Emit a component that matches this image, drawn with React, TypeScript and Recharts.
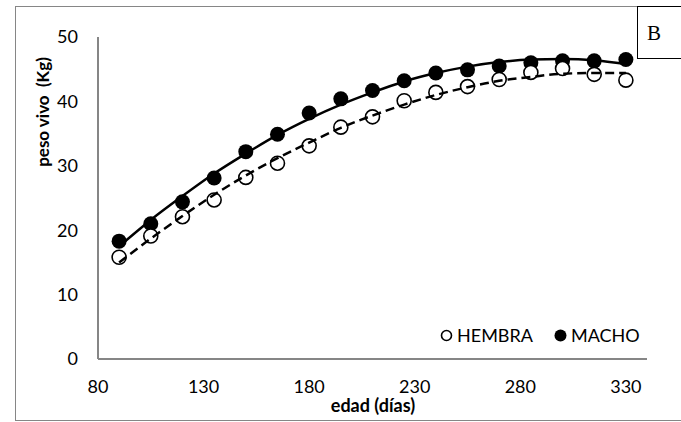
import {
  ComposedChart,
  Scatter,
  Line,
  XAxis,
  YAxis,
} from "recharts";

// edad (días)
const edad = [90, 105, 120, 135, 150, 165, 180, 195, 210, 225, 240, 255, 270, 285, 300, 315, 330];

// peso vivo (Kg), observed means
const hembra = [15.8, 19.1, 22.1, 24.7, 28.2, 30.4, 33.1, 36.0, 37.6, 40.1, 41.4, 42.3, 43.4, 44.5, 45.1, 44.2, 43.3];
const macho = [18.3, 21.0, 24.4, 28.1, 32.2, 34.9, 38.2, 40.4, 41.7, 43.2, 44.4, 44.9, 45.5, 46.0, 46.3, 46.3, 46.5];

// trend curves
const hembraCurva = [15.0, 18.7, 22.2, 25.5, 28.5, 31.2, 33.6, 35.9, 37.8, 39.5, 41.0, 42.2, 43.2, 43.8, 44.3, 44.4, 44.4];
const machoCurva = [17.5, 21.6, 25.3, 28.8, 31.9, 34.8, 37.3, 39.5, 41.4, 43.1, 44.4, 45.4, 46.1, 46.5, 46.6, 46.4, 45.8];

const xTicks = [80, 130, 180, 230, 280, 330];
const yTicks = [0, 10, 20, 30, 40, 50];

const rows = edad.map((e, i) => ({
  edad: e,
  hembra: hembra[i],
  macho: macho[i],
  hembraCurva: hembraCurva[i],
  machoCurva: machoCurva[i],
}));

const FONT = "Lato, 'Open Sans', sans-serif";
const AXIS = "#868686";
const X_DOMAIN: [number, number] = [80, 340];
const Y_DOMAIN: [number, number] = [0, 50];

function LegendBox() {
  return (
    <div
      style={{
        position: "absolute",
        left: 440,
        top: 324,
        display: "flex",
        alignItems: "center",
        fontFamily: FONT,
        fontSize: 18,
        color: "#000",
        lineHeight: "22px",
      }}
    >
      <svg width={13} height={13} style={{ marginRight: 4 }}>
        <circle cx={6.5} cy={6.5} r={5} fill="#fff" stroke="#000" strokeWidth={1.6} />
      </svg>
      <span style={{ marginRight: 21 }}>HEMBRA</span>
      <svg width={13} height={13} style={{ marginRight: 4 }}>
        <circle cx={6.5} cy={6.5} r={6} fill="#000" />
      </svg>
      <span>MACHO</span>
    </div>
  );
}

export default function App() {
  return (
    <div style={{ position: "absolute", left: 0, top: 0, width: 681, height: 422, background: "#fff", overflow: "hidden" }}>
      <div
        style={{
          position: "absolute",
          left: 15,
          top: 6,
          width: 700,
          height: 413,
          border: `1px solid ${AXIS}`,
        }}
      />
      {/* axes + points */}
      <ComposedChart
        width={681}
        height={422}
        data={rows}
        margin={{ top: 37, right: 34, bottom: 33, left: 38 }}
        style={{ position: "absolute", left: 0, top: 0 }}
      >
        <XAxis
          dataKey="edad"
          type="number"
          domain={X_DOMAIN}
          ticks={xTicks}
          tickLine={false}
          axisLine={{ stroke: AXIS, strokeWidth: 2 }}
          tick={{ fill: "#000", fontSize: 18, fontFamily: FONT }}
          tickMargin={15}
          interval={0}
          height={30}
        />
        <YAxis
          type="number"
          domain={Y_DOMAIN}
          ticks={yTicks}
          tickLine={false}
          axisLine={{ stroke: AXIS, strokeWidth: 2 }}
          tick={{ fill: "#000", fontSize: 18, fontFamily: FONT }}
          tickMargin={14}
          width={60}
        />
        <Scatter
          name="MACHO"
          dataKey="macho"
          fill="#000"
          isAnimationActive={false}
          shape={(p: any) => <circle cx={p.cx} cy={p.cy} r={7.5} fill="#000" />}
        />
        <Scatter
          name="HEMBRA"
          dataKey="hembra"
          fill="#fff"
          isAnimationActive={false}
          shape={(p: any) => (
            <circle cx={p.cx} cy={p.cy} r={7} fill="#fff" stroke="#000" strokeWidth={1.6} />
          )}
        />
        <text
          x={42}
          y={112}
          transform="rotate(-90 42 112)"
          textAnchor="middle"
          dominantBaseline="central"
          fontFamily={FONT}
          fontWeight="bold"
          fontSize={17}
          fill="#000"
          style={{ whiteSpace: "pre" }}
        >
          peso vivo  (Kg)
        </text>
        <text
          x={373}
          y={405}
          textAnchor="middle"
          dominantBaseline="central"
          fontFamily={FONT}
          fontWeight="bold"
          fontSize={18}
          fill="#000"
        >
          edad (días)
        </text>
      </ComposedChart>
      {/* trend curves drawn over the markers */}
      <ComposedChart
        width={681}
        height={422}
        data={rows}
        margin={{ top: 37, right: 34, bottom: 63, left: 98 }}
        style={{ position: "absolute", left: 0, top: 0 }}
      >
        <XAxis dataKey="edad" type="number" domain={X_DOMAIN} hide />
        <YAxis type="number" domain={Y_DOMAIN} hide />
        <Line
          dataKey="machoCurva"
          type="monotone"
          stroke="#000"
          strokeWidth={2.5}
          dot={false}
          activeDot={false}
          isAnimationActive={false}
        />
        <Line
          dataKey="hembraCurva"
          type="monotone"
          stroke="#000"
          strokeWidth={2.5}
          strokeDasharray="9 5"
          dot={false}
          activeDot={false}
          isAnimationActive={false}
        />
      </ComposedChart>
      <LegendBox />
      <div
        style={{
          position: "absolute",
          left: 637,
          top: 6,
          width: 60,
          height: 53,
          border: "1px solid #000",
          background: "#fff",
          fontFamily: "'Liberation Serif', 'Times New Roman', serif",
          fontSize: 21,
          lineHeight: "53px",
          paddingLeft: 9,
          boxSizing: "border-box",
        }}
      >
        B
      </div>
    </div>
  );
}
